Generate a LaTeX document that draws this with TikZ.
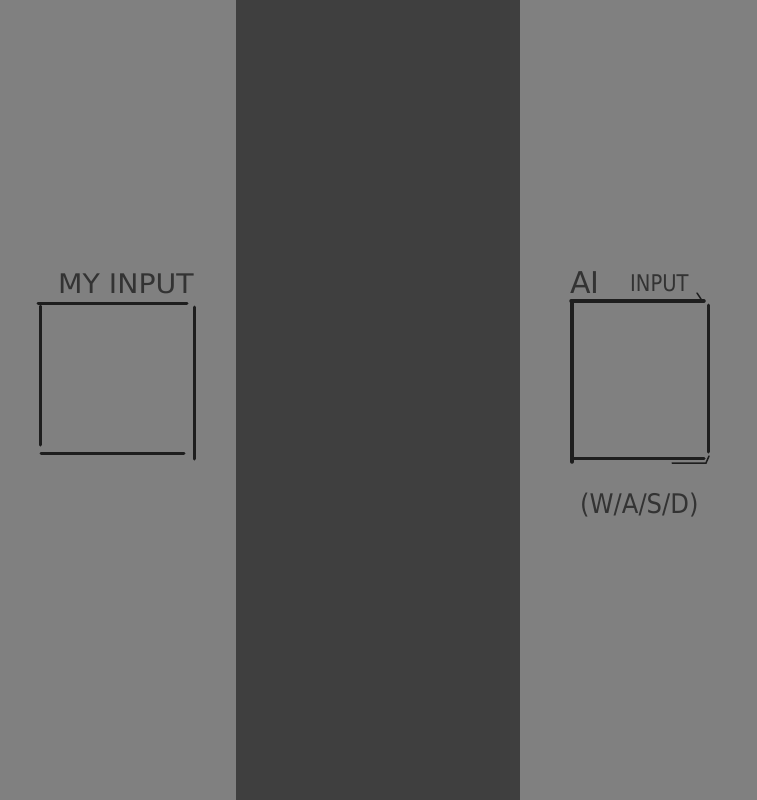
\documentclass[tikz,border=0pt]{standalone}
\usepackage{fontspec}
\setmainfont{DejaVu Sans}
\definecolor{bg}{HTML}{808080}
\definecolor{band}{HTML}{3F3F3F}
\definecolor{ink}{HTML}{1E1E1E}
\definecolor{txt}{HTML}{333333}
\begin{document}
\begin{tikzpicture}[x=1pt,y=-1pt,
  stroke/.style={draw=ink,line width=3pt,line cap=round},
  lbl/.style={text=txt,inner sep=0pt,anchor=base west}]
\useasboundingbox (0,0) rectangle (756,800);
\fill[bg] (-3,-3) rectangle (759,803);
\fill[band] (236,-3) rectangle (520,803);
% left box
\node[minimum width=154pt,minimum height=155pt,inner sep=0pt] (mybox) at (117,381) {};
\draw[stroke] (38,303) -- (187,303);
\draw[stroke] (40,306) -- (40,445);
\draw[stroke] (194,307) -- (194,459);
\draw[stroke] (41,453) -- (184,453);
\node[lbl,font=\fontsize{27}{27}\selectfont\addfontfeatures{FakeStretch=1.05}] (mylbl) at (58,293) {MY INPUT};
% right box
\node[minimum width=138pt,minimum height=162pt,inner sep=0pt] (aibox) at (640,381) {};
\draw[stroke,line width=3.5pt] (571,301) -- (704,301);
\draw[stroke,line width=3.5pt] (572,302) -- (572,462);
\draw[stroke] (708,305) -- (708,452);
\draw[stroke] (573,458) -- (704,458);
\draw[draw=ink,line width=1.5pt,line cap=round] (672,463) -- (706,463) -- (709,456);
\draw[draw=ink,line width=1.5pt,line cap=round] (697,293) -- (701,299);
\node[lbl,font=\fontsize{30}{30}\selectfont] (ailbl) at (570,293) {AI};
\node[lbl,font=\fontsize{23}{23}\selectfont\addfontfeatures{FakeStretch=0.85}] (inlbl) at (630,291) {INPUT};
\node[lbl,font=\fontsize{27}{27}\selectfont\addfontfeatures{FakeStretch=0.9}] (wasd) at (580,513) {(W/A/S/D)};
\end{tikzpicture}
\end{document}
